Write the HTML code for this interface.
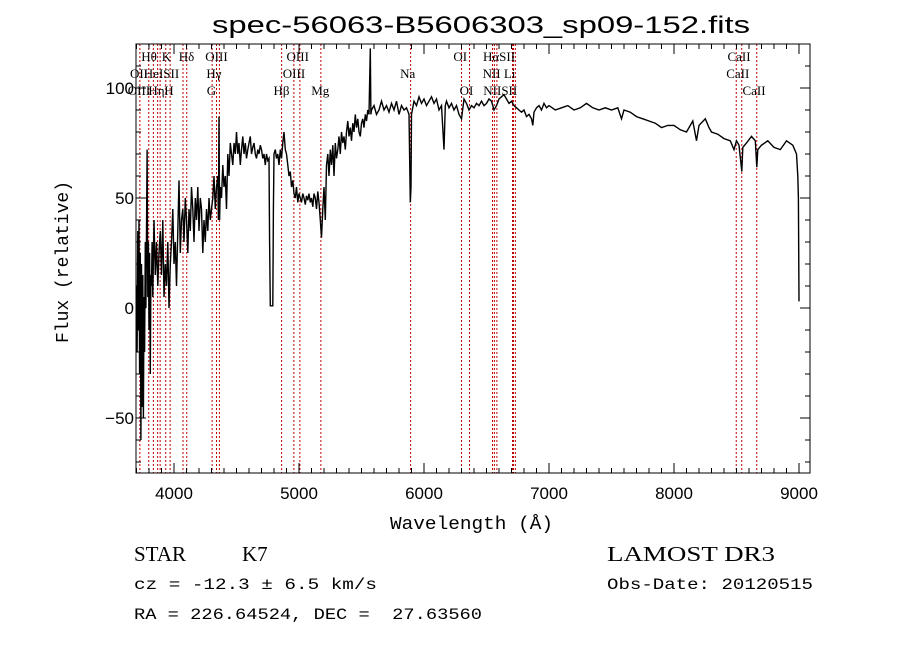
<!DOCTYPE html>
<html><head><meta charset="utf-8"><style>
body{margin:0;background:#fff;}
svg{display:block;}
</style></head><body>
<svg id="chart" width="900" height="649" xmlns="http://www.w3.org/2000/svg">
<rect width="900" height="649" fill="#fff"/>
<text x="212" y="33" textLength="538" lengthAdjust="spacingAndGlyphs" font-family="Liberation Sans, sans-serif" font-size="24">spec-56063-B5606303_sp09-152.fits</text>
<g id="lines"></g>
<g id="spec"></g>
<g id="axes"></g>
<g id="labels" font-family="Liberation Serif, serif" font-size="13"></g>
<text x="390" y="529" textLength="163" lengthAdjust="spacingAndGlyphs" font-family="Liberation Mono, monospace" font-size="18">Wavelength (Å)</text>
<text transform="translate(68,262) rotate(-90)" text-anchor="middle" font-family="Liberation Mono, monospace" font-size="18">Flux (relative)</text>
<text x="134" y="561" font-family="Liberation Serif, serif" font-size="21">STAR</text>
<text x="242" y="561" font-family="Liberation Serif, serif" font-size="21">K7</text>
<text x="607" y="561" textLength="168" lengthAdjust="spacingAndGlyphs" font-family="Liberation Serif, serif" font-size="21">LAMOST DR3</text>
<text x="134" y="589" textLength="243" lengthAdjust="spacingAndGlyphs" font-family="Liberation Mono, monospace" font-size="16">cz = -12.3 ± 6.5 km/s</text>
<text x="607" y="589" textLength="206" lengthAdjust="spacingAndGlyphs" font-family="Liberation Mono, monospace" font-size="16">Obs-Date: 20120515</text>
<text x="134" y="619" textLength="348" lengthAdjust="spacingAndGlyphs" font-family="Liberation Mono, monospace" font-size="16" xml:space="preserve">RA = 226.64524, DEC =  27.63560</text>
</svg>
<script>
const wavelengths=[3700,3705,3710,3715,3720,3725,3730,3735,3740,3745,3750,3755,3760,3765,3770,3775,3780,3785,3790,3795,3800,3805,3810,3815,3820,3825,3830,3840,3850,3860,3870,3880,3890,3900,3910,3920,3930,3940,3950,3960,3970,3980,3990,4000,4010,4020,4030,4040,4050,4060,4070,4080,4090,4100,4110,4120,4130,4140,4150,4160,4170,4180,4190,4200,4210,4220,4230,4240,4250,4260,4270,4280,4290,4300,4310,4320,4330,4340,4350,4355,4360,4365,4370,4380,4390,4400,4410,4420,4430,4440,4450,4460,4470,4480,4490,4500,4510,4520,4530,4540,4550,4560,4570,4580,4590,4600,4610,4620,4630,4640,4650,4660,4670,4680,4690,4700,4710,4720,4730,4740,4750,4760,4765,4770,4790,4795,4800,4810,4820,4830,4840,4850,4860,4870,4880,4890,4900,4910,4920,4930,4940,4950,4960,4970,4980,4990,5000,5010,5020,5030,5040,5050,5060,5070,5080,5090,5100,5110,5120,5130,5140,5150,5160,5170,5180,5190,5200,5210,5220,5230,5240,5250,5260,5270,5280,5290,5300,5310,5320,5330,5340,5350,5360,5370,5380,5390,5400,5410,5420,5430,5440,5450,5460,5470,5480,5490,5500,5510,5520,5530,5540,5550,5560,5570,5575,5580,5600,5620,5640,5660,5680,5700,5720,5740,5760,5780,5800,5820,5840,5860,5880,5890,5896,5900,5920,5940,5960,5980,6000,6020,6040,6060,6080,6100,6120,6140,6160,6170,6180,6200,6220,6240,6260,6280,6300,6320,6340,6360,6380,6400,6420,6440,6460,6480,6500,6520,6540,6560,6580,6600,6620,6640,6660,6680,6700,6720,6740,6760,6780,6800,6820,6840,6860,6870,6880,6900,6920,6940,6960,6980,7000,7050,7100,7150,7200,7250,7300,7350,7400,7450,7500,7550,7580,7600,7650,7700,7750,7800,7850,7900,7950,8000,8050,8100,8150,8180,8200,8250,8280,8300,8350,8400,8450,8480,8500,8520,8542,8550,8580,8620,8650,8662,8670,8700,8750,8800,8850,8900,8950,8980,8990,8995,9000];
const flux=[10,-20,35,-10,40,-30,25,-60,20,-45,15,-50,5,-20,30,0,35,72,5,30,-10,25,-30,15,10,30,5,40,15,30,10,25,35,15,40,5,20,10,30,0,20,30,45,20,30,10,35,58,25,40,45,30,50,40,25,45,35,55,45,30,50,40,55,35,50,45,25,40,30,45,35,50,40,45,50,60,45,55,60,40,87,40,55,50,65,55,60,45,70,60,75,70,65,75,70,80,70,75,65,72,78,70,75,68,72,75,78,70,73,75,70,68,72,70,74,72,68,70,65,70,67,68,30,1,1,45,70,72,68,70,65,72,68,75,80,72,70,65,60,62,55,58,52,50,55,48,52,50,48,52,50,47,51,49,52,48,50,46,52,50,45,53,48,40,32,45,55,40,65,70,60,72,65,74,60,75,68,72,78,70,80,75,78,72,80,85,78,82,76,84,80,88,82,86,80,78,84,86,82,88,85,90,88,118,88,90,92,88,90,94,90,92,89,93,90,94,88,92,90,91,88,48,55,88,94,92,96,93,95,92,94,96,93,95,90,92,72,92,94,91,93,90,92,88,86,95,93,90,92,91,93,92,94,92,93,95,94,90,92,95,96,97,95,93,94,92,91,90,89,90,87,88,86,83,89,91,92,90,93,91,92,90,91,92,90,91,93,91,90,91,90,91,86,90,89,87,86,85,84,82,83,83,81,80,85,76,83,86,82,80,79,77,76,72,76,74,62,73,75,78,76,64,72,74,76,73,72,76,74,70,60,50,3];
const lineWaves=[3727,3798,3835,3869,3889,3934,3969,4072,4102,4305,4340,4363,4861,4959,5007,5175,5893,6300,6364,6548,6563,6583,6708,6716,6731,8498,8542,8662];
const labelTexts=["Hθ","K","Hδ","OIII","OIII","OI","HαSII","CaII","OII","HeISII","Hγ","OIII","Na","NII Li","CaII","OIII","Hη","H","G","Hβ","Mg","OI","NIISII","CaII"];
const labelWaves=[3800,3940,4100,4340,4990,6290,6600,8520,3720,3900,4320,4960,5870,6600,8510,3720,3860,3960,4300,4860,5170,6340,6610,8640];
const labelRows=[0,0,0,0,0,0,0,0,1,1,1,1,1,1,1,2,2,2,2,2,2,2,2,2];
const xTicks=[4000,5000,6000,7000,8000,9000];
const yTicks=[-50,0,50,100];

const L=136,R=810,T=44,B=473,X0=3696,X1=9088,Y0=-75,Y1=120;
const xs=w=>L+(w-X0)/(X1-X0)*(R-L);
const ys=f=>B-(f-Y0)/(Y1-Y0)*(B-T);
const NS="http://www.w3.org/2000/svg";
function mk(tag,attrs,parent){const e=document.createElementNS(NS,tag);for(const k in attrs)e.setAttribute(k,attrs[k]);parent.appendChild(e);return e;}

const gl=document.getElementById('lines');
lineWaves.forEach(w=>{const e=mk('line',{x1:xs(w),x2:xs(w),y1:T,y2:B,stroke:'#c00000','stroke-width':1,'stroke-dasharray':'2,2'},gl);

});

const gs=document.getElementById('spec');
let d='';wavelengths.forEach((w,i)=>{const y=Math.max(T,Math.min(B,ys(flux[i])));d+=(i?'L':'M')+xs(w).toFixed(1)+','+y.toFixed(1);});
const p=mk('path',{d:d,fill:'none',stroke:'#000','stroke-width':1.4},gs);



const ga=document.getElementById('axes');
const fr=mk('rect',{x:L,y:T,width:R-L,height:B-T,fill:'none',stroke:'#000','stroke-width':1},ga);


for(let w=3700;w<=9000;w+=100){const maj=w%1000===0;const len=maj?10:5;const x=xs(w);
mk('line',{x1:x,x2:x,y1:B,y2:B-len,stroke:'#000'},ga);mk('line',{x1:x,x2:x,y1:T,y2:T+len,stroke:'#000'},ga);}
for(let f=-70;f<=120;f+=10){const maj=f%50===0;const len=maj?10:5;const y=ys(f);
mk('line',{x1:L,x2:L+len,y1:y,y2:y,stroke:'#000'},ga);mk('line',{x1:R,x2:R-len,y1:y,y2:y,stroke:'#000'},ga);}
xTicks.forEach(w=>{const t=mk('text',{x:xs(w),y:B+26,'text-anchor':'middle','font-family':'Liberation Sans, sans-serif','font-size':17},ga);t.textContent=w;

});
yTicks.forEach(f=>{const t=mk('text',{x:L-2,y:ys(f)+6,'text-anchor':'end','font-family':'Liberation Sans, sans-serif','font-size':17},ga);t.textContent=f<0?'−'+(-f):f;

});

const gt=document.getElementById('labels');
const rowY=[61,78,95];
labelTexts.forEach((s,i)=>{const t=mk('text',{x:xs(labelWaves[i]),y:rowY[labelRows[i]],'text-anchor':'middle'},gt);t.textContent=s;

});
</script>
</body></html>
